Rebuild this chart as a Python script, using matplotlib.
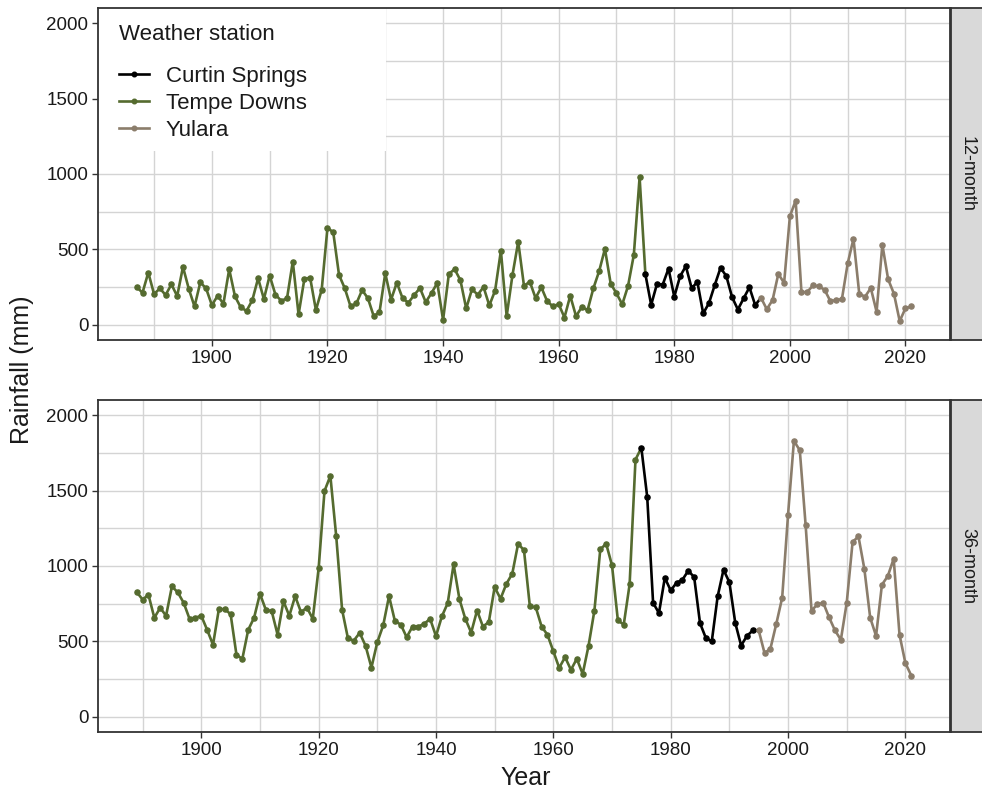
import numpy as np
import matplotlib
matplotlib.use("Agg")
import matplotlib.pyplot as plt
from matplotlib.patches import Rectangle
from matplotlib.lines import Line2D
from matplotlib.ticker import MultipleLocator

plt.rcParams['font.family'] = ['Liberation Sans', 'DejaVu Sans']

# station order along the record and colours
station_order = ['Tempe Downs', 'Curtin Springs', 'Yulara']
legend_order = ['Curtin Springs', 'Tempe Downs', 'Yulara']
colours = {'Curtin Springs': '#000000', 'Tempe Downs': '#556B2F', 'Yulara': '#8B7D6B'}

# 12-month rainfall (mm)
tempe_12_start = 1887
tempe_12 = [251, 213, 347, 204, 242, 198, 269, 191, 384, 240,
            122, 282, 242, 131, 193, 140, 369, 189, 116, 93,
            164, 309, 171, 327, 200, 160, 176, 420, 69, 304,
            313, 98, 233, 644, 613, 331, 242, 122, 142, 231,
            176, 58, 84, 342, 167, 280, 176, 147, 198, 244,
            151, 211, 278, 33, 338, 369, 296, 109, 236, 200,
            251, 129, 227, 491, 58, 329, 551, 258, 287, 178,
            249, 158, 122, 138, 49, 193, 58, 118, 98, 242,
            356, 504, 273, 209, 136, 258, 464, 978]
curtin_12_start = 1975
curtin_12 = [336, 133, 271, 267, 373, 187, 322, 389, 244, 284,
             76, 144, 264, 378, 324, 184, 102, 176, 249, 131]
yulara_12_start = 1995
yulara_12 = [180, 104, 164, 338, 278, 720, 824, 216, 218, 262,
             256, 233, 158, 164, 171, 407, 571, 207, 187, 244,
             87, 531, 302, 207, 25, 111, 122]

# 36-month rainfall (mm)
tempe_36_start = 1889
tempe_36 = [827, 778, 809, 657, 723, 670, 865, 825, 756, 650,
            657, 670, 577, 478, 714, 714, 681, 411, 385, 577,
            657, 816, 710, 701, 546, 767, 670, 800, 694, 725,
            650, 984, 1497, 1597, 1196, 710, 520, 506, 557, 471,
            327, 495, 606, 800, 635, 612, 528, 599, 599, 617,
            650, 535, 666, 754, 1011, 780, 650, 559, 705, 599,
            628, 860, 783, 882, 949, 1148, 1104, 732, 727, 599,
            544, 435, 325, 396, 312, 385, 285, 471, 705, 1110,
            1148, 1004, 639, 612, 878, 1705]
curtin_36_start = 1975
curtin_36 = [1783, 1457, 756, 688, 922, 838, 889, 909, 969, 926,
             621, 522, 500, 798, 975, 893, 624, 473, 537, 573]
yulara_36_start = 1995
yulara_36 = [573, 422, 453, 617, 790, 1340, 1829, 1767, 1269, 705,
             745, 756, 659, 573, 511, 756, 1159, 1196, 982, 657,
             537, 876, 933, 1048, 544, 356, 274]

panels = [
    ('12-month', {'Tempe Downs': (tempe_12_start, tempe_12),
                  'Curtin Springs': (curtin_12_start, curtin_12),
                  'Yulara': (yulara_12_start, yulara_12)}),
    ('36-month', {'Tempe Downs': (tempe_36_start, tempe_36),
                  'Curtin Springs': (curtin_36_start, curtin_36),
                  'Yulara': (yulara_36_start, yulara_36)}),
]

grid_col = '#d4d4d4'
border_col = '#333333'
text_col = '#1a1a1a'

W, H = 982, 794
fig = plt.figure(figsize=(W / 100, H / 100), dpi=100)

panel_boxes = [(98, 8, 950, 340), (98, 400, 950, 732)]


def px_axes(x0, y0, x1, y1):
    return fig.add_axes([x0 / W, 1 - y1 / H, (x1 - x0) / W, (y1 - y0) / H])


for (label, series), (x0, y0, x1, y1) in zip(panels, panel_boxes):
    ax = px_axes(x0, y0, x1, y1)
    ax.set_axisbelow(True)
    all_years = []
    for i, name in enumerate(station_order):
        start, vals = series[name]
        yrs = np.arange(start, start + len(vals))
        all_years.extend(yrs)
        line_x = list(yrs)
        line_y = list(vals)
        # join to the first point of the next station in the colour of this one
        if i + 1 < len(station_order):
            nstart, nvals = series[station_order[i + 1]]
            line_x.append(nstart)
            line_y.append(nvals[0])
        ax.plot(line_x, line_y, color=colours[name], lw=1.9, zorder=3,
                solid_capstyle='round', solid_joinstyle='round')
        ax.plot(yrs, vals, 'o', color=colours[name], ms=3.7, zorder=4)

    lo, hi = min(all_years), max(all_years)
    pad = (hi - lo) * 0.05
    ax.set_xlim(lo - pad, hi + pad)
    ax.set_ylim(-100, 2100)
    ax.set_xticks([1900, 1920, 1940, 1960, 1980, 2000, 2020])
    ax.xaxis.set_minor_locator(MultipleLocator(10))
    ax.set_yticks([0, 500, 1000, 1500, 2000])
    ax.yaxis.set_minor_locator(MultipleLocator(250))
    ax.grid(True, which='both', color=grid_col, lw=1.0)
    ax.tick_params(which='major', direction='out', length=4, width=1,
                   color=border_col, labelsize=13.5, labelcolor=text_col, pad=3)
    ax.tick_params(which='minor', length=0)
    for sp in ax.spines.values():
        sp.set_color(border_col)
        sp.set_linewidth(1.3)

    # facet strip on the right
    sx = px_axes(x1 + 1, y0, W + 2, y1)
    sx.set_facecolor('#d9d9d9')
    sx.set_xticks([])
    sx.set_yticks([])
    for sp in sx.spines.values():
        sp.set_color(border_col)
        sp.set_linewidth(1.3)
    sx.text(0.5, 0.5, label, rotation=-90, ha='center', va='center',
            fontsize=13, color=text_col, transform=sx.transAxes)

    if label == '12-month':
        top_ax = ax

# legend on a white box in the top-left of the first panel
ax = top_ax
pw, ph = 950 - 98, 340 - 8
ax.add_patch(Rectangle((0, 1 - (151 - 8) / ph), (386 - 98) / pw, (151 - 8) / ph,
                       transform=ax.transAxes, facecolor='white',
                       edgecolor='none', zorder=1.5))
ax.text((119 - 98) / pw, 1 - (35 - 8) / ph, 'Weather station',
        transform=ax.transAxes, ha='left', va='center', fontsize=16,
        color=text_col, zorder=5)
handles = [Line2D([], [], color=colours[n], lw=1.9, marker='o', ms=3.3)
           for n in legend_order]
leg = ax.legend(handles, legend_order, loc='upper left', frameon=False,
                bbox_to_anchor=((119 - 98) / pw, 1 - (66 - 8) / ph),
                borderpad=0, borderaxespad=0, fontsize=16,
                handlelength=1.35, handletextpad=0.75, labelspacing=0.27)
for t in leg.get_texts():
    t.set_color(text_col)
leg.set_zorder(5)

fig.text(22 / W, 1 - 370 / H, 'Rainfall (mm)', rotation=90, ha='center',
         va='center', fontsize=18, color=text_col)
fig.text(526 / W, 1 - 778 / H, 'Year', ha='center', va='center',
         fontsize=18, color=text_col)

fig.savefig('out.png', dpi=100)
